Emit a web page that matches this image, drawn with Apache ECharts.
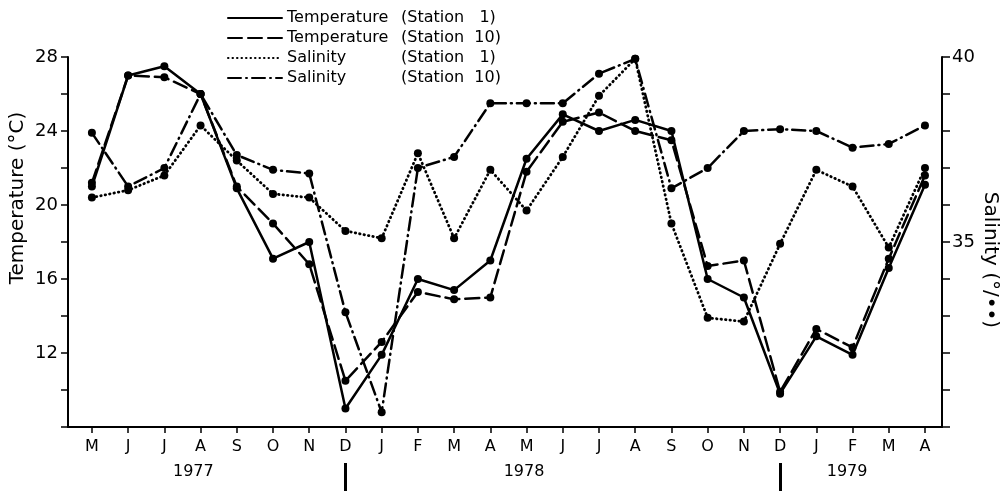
<!DOCTYPE html>
<html>
<head>
<meta charset="utf-8">
<script src="https://cdn.jsdelivr.net/npm/echarts@6/dist/echarts.min.js"></script>
<style>
  html, body { margin: 0; padding: 0; background: #fff; }
  #chart { width: 1007px; height: 491px; }
</style>
</head>
<body>
<div id="chart"></div>
<script>
// months from May 1977 to April 1979
const months = ['M', 'J', 'J', 'A', 'S', 'O', 'N', 'D', 'J', 'F', 'M', 'A',
                'M', 'J', 'J', 'A', 'S', 'O', 'N', 'D', 'J', 'F', 'M', 'A'];
const years = ['1977', '1978', '1979'];
const yearPos = [2.8, 11.93, 20.85];
const yearBreaks = [7, 19];

const tempSt1 = [21.0, 27.0, 27.5, 26.0, 20.9, 17.1, 18.0, 9.0, 11.9, 16.0, 15.4, 17.0,
                 22.5, 24.9, 24.0, 24.6, 24.0, 16.0, 15.0, 9.8, 12.9, 11.9, 16.6, 21.1];
const tempSt10 = [21.2, 27.0, 26.9, 26.0, 21.0, 19.0, 16.8, 10.5, 12.6, 15.3, 14.9, 15.0,
                  21.8, 24.5, 25.0, 24.0, 23.5, 16.7, 17.0, 9.9, 13.3, 12.3, 17.1, 21.6];
const salSt1 = [36.2, 36.4, 36.8, 38.15, 37.2, 36.3, 36.2, 35.3, 35.1, 37.4, 35.1, 36.95,
                35.85, 37.3, 38.95, 39.95, 35.5, 32.95, 32.85, 34.95, 36.95, 36.5, 34.85, 37.0];
const salSt10 = [37.95, 36.5, 37.0, 39.0, 37.35, 36.95, 36.85, 33.1, 30.4, 37.0, 37.3, 38.75,
                 38.75, 38.75, 39.55, 39.95, 36.45, 37.0, 38.0, 38.05, 38.0, 37.55, 37.65, 38.15];

const font = 'DejaVu Sans';
const idx = months.map((m, i) => i);

function pts(arr) {
    return arr.map((v, i) => [i, v]);
}

function lineSeries(name, arr, yIndex, type, width) {
    return {
        name: name,
        type: 'line',
        yAxisIndex: yIndex,
        data: pts(arr),
        symbol: 'circle',
        symbolSize: 8,
        itemStyle: { color: '#000' },
        lineStyle: { color: '#000', width: width, type: type, cap: 'round' },
        z: 3
    };
}

const chart = echarts.init(document.getElementById('chart'));
chart.setOption({
    animation: false,
    textStyle: { fontFamily: font, color: '#000' },
    grid: { left: 68, right: 65, top: 57, bottom: 64, outerBoundsMode: 'none', containLabel: false },
    legend: {
        orient: 'vertical',
        left: 222,
        top: 5,
        itemWidth: 54,
        itemHeight: 15,
        itemGap: 4,
        itemStyle: { opacity: 0 },
        textStyle: {
            fontFamily: font,
            fontSize: 16,
            color: '#000',
            rich: {
                a: { width: 114, fontSize: 16, fontFamily: font },
                b: { fontSize: 16, fontFamily: font }
            }
        },
        formatter: function (name) {
            const parts = name.split('|');
            return '{a|' + parts[0] + '}{b|' + parts[1] + '}';
        },
        data: ['Temperature|(Station   1)', 'Temperature|(Station  10)',
               'Salinity|(Station   1)', 'Salinity|(Station  10)']
    },
    xAxis: [{
        type: 'value',
        min: -0.66,
        max: 23.47,
        splitLine: { show: false },
        axisLine: { lineStyle: { color: '#000', width: 2 } },
        axisTick: { customValues: idx, length: 6, lineStyle: { color: '#000', width: 1.5 } },
        axisLabel: {
            customValues: idx,
            fontSize: 16,
            color: '#000',
            margin: 12,
            formatter: function (v) { return months[Math.round(v)]; }
        }
    }, {
        type: 'value',
        position: 'bottom',
        offset: 36,
        min: -0.66,
        max: 23.47,
        splitLine: { show: false },
        axisLine: { show: false },
        axisTick: { customValues: yearBreaks, length: 28, lineStyle: { color: '#000', width: 3 } },
        axisLabel: {
            customValues: yearPos,
            fontSize: 16,
            color: '#000',
            margin: 1,
            formatter: function (v) {
                return years[yearPos.indexOf(v)];
            }
        }
    }],
    yAxis: [{
        type: 'value',
        min: 8,
        max: 28,
        interval: 2,
        position: 'left',
        splitLine: { show: false },
        axisLine: { show: true, onZero: false, lineStyle: { color: '#000', width: 2 } },
        axisTick: { length: 7, lineStyle: { color: '#000', width: 1.5 } },
        axisLabel: {
            fontSize: 18,
            color: '#000',
            margin: 10,
            formatter: function (v) { return (v >= 12 && v % 4 === 0) ? String(v) : ''; }
        },
        name: 'Temperature (°C)',
        nameLocation: 'middle',
        nameGap: 40,
        nameMoveOverlap: false,
        nameTextStyle: { fontSize: 20, color: '#000', padding: [0, 0, 0, 88] }
    }, {
        type: 'value',
        min: 30,
        max: 40,
        interval: 1,
        position: 'right',
        splitLine: { show: false },
        axisLine: { show: true, onZero: false, lineStyle: { color: '#000', width: 2 } },
        axisTick: { length: 8, lineStyle: { color: '#000', width: 1.5 } },
        axisLabel: {
            fontSize: 18,
            color: '#000',
            margin: 10,
            formatter: function (v) { return (v === 35 || v === 40) ? String(v) : ''; }
        },
        name: 'Salinity (°/••)',
        nameLocation: 'middle',
        nameRotate: -90,
        nameGap: 38,
        nameMoveOverlap: false,
        nameTextStyle: { fontSize: 20, color: '#000', padding: [0, 0, 0, 36] }
    }],
    series: [
        lineSeries('Temperature|(Station   1)', tempSt1, 0, 'solid', 2.5),
        lineSeries('Temperature|(Station  10)', tempSt10, 0, [14, 6], 2.5),
        lineSeries('Salinity|(Station   1)', salSt1, 1, [0.5, 4], 2.8),
        lineSeries('Salinity|(Station  10)', salSt10, 1, [13, 5, 1, 5], 2.5)
    ]
});
</script>
</body>
</html>
